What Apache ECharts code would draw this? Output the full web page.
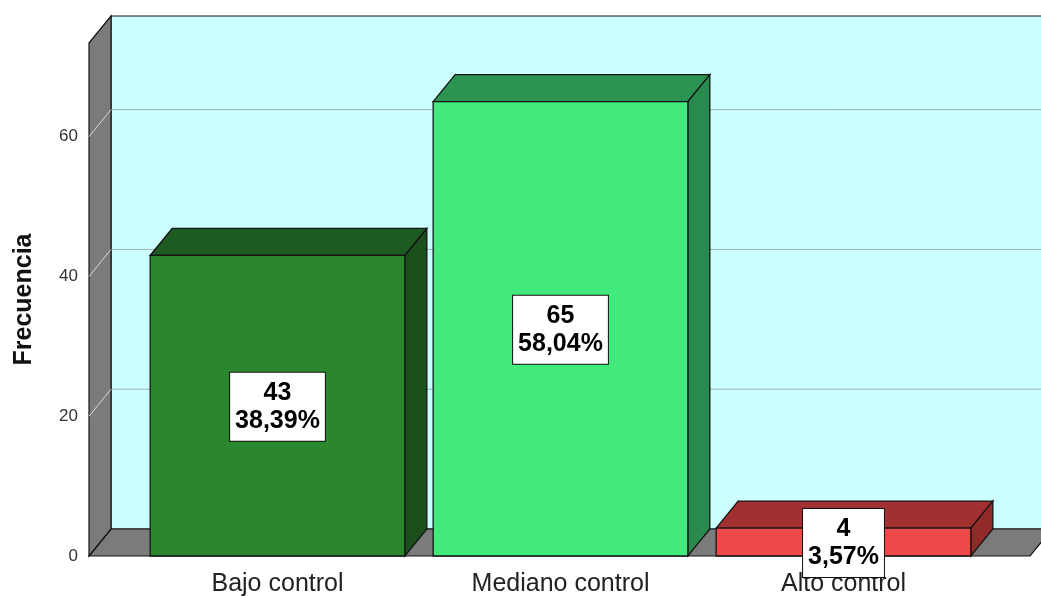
<!DOCTYPE html>
<html>
<head>
<meta charset="utf-8">
<script src="https://cdn.jsdelivr.net/npm/echarts@6/dist/echarts.min.js"></script>
<style>
html,body{margin:0;padding:0;background:#fff;}
#chart{width:1041px;height:597px;}
</style>
</head>
<body>
<div id="chart"></div>
<script>
const categories = ['Bajo control', 'Mediano control', 'Alto control'];
const frequencies = [43, 65, 4];
const percentLabels = ['38,39%', '58,04%', '3,57%'];
const yAxisMax = 73.4;
const yAxisInterval = 20;
const gridValues = [20, 40, 60];

const frontColors = ['#2b872e', '#42e97c', '#ef4848'];
const topColors = ['#1e5b20', '#2b9453', '#a13131'];
const sideColors = ['#1b4f1c', '#288a4c', '#932a2a'];

const DX = 22, DY = -27;
const EDGE = '#141414';

const chart = echarts.init(document.getElementById('chart'));

function renderBox(params, api) {
  const cs = params.coordSys;
  const y0 = api.coord([0, 0])[1];
  const yTop = cs.y;
  const xL = cs.x - 47;
  const xR = cs.x + cs.width + 45;
  const children = [];
  children.push({
    type: 'rect',
    shape: { x: xL + DX, y: yTop + DY, width: xR - xL, height: y0 - yTop },
    style: { fill: '#ccffff', stroke: EDGE, lineWidth: 1.2 }
  });
  gridValues.forEach(function (v) {
    const y = api.coord([0, v])[1];
    children.push({
      type: 'line',
      shape: { x1: xL + DX, y1: y + DY, x2: xR + DX, y2: y + DY },
      style: { stroke: '#9fb0b0', lineWidth: 1 }
    });
  });
  children.push({
    type: 'polygon',
    shape: { points: [[xL, y0], [xL + DX, y0 + DY], [xR + DX, y0 + DY], [xR, y0]] },
    style: { fill: '#7b7b7b', stroke: EDGE, lineWidth: 1.2 }
  });
  children.push({
    type: 'polygon',
    shape: { points: [[xL, yTop], [xL + DX, yTop + DY], [xL + DX, y0 + DY], [xL, y0]] },
    style: { fill: '#7b7b7b', stroke: EDGE, lineWidth: 1.2 }
  });
  gridValues.forEach(function (v) {
    const y = api.coord([0, v])[1];
    children.push({
      type: 'line',
      shape: { x1: xL, y1: y, x2: xL + DX, y2: y + DY },
      style: { stroke: '#d8dede', lineWidth: 1 }
    });
  });
  return { type: 'group', children: children };
}

function renderBar(params, api) {
  const idx = api.value(0);
  const v = api.value(1);
  const p0 = api.coord([idx, 0]);
  const p1 = api.coord([idx, v]);
  const bw = api.size([1, 0])[0] * 0.9;
  const xl = p1[0] - bw / 2, xr = p1[0] + bw / 2;
  const yt = p1[1], yb = p0[1];
  const i = params.dataIndex;
  return {
    type: 'group',
    children: [
      { type: 'polygon', shape: { points: [[xl, yt], [xl + DX, yt + DY], [xr + DX, yt + DY], [xr, yt]] },
        style: { fill: topColors[i], stroke: EDGE, lineWidth: 1.3 } },
      { type: 'polygon', shape: { points: [[xr, yt], [xr + DX, yt + DY], [xr + DX, yb + DY], [xr, yb]] },
        style: { fill: sideColors[i], stroke: EDGE, lineWidth: 1.3 } },
      { type: 'rect', shape: { x: xl, y: yt, width: bw, height: yb - yt },
        style: { fill: frontColors[i], stroke: EDGE, lineWidth: 1.3 } }
    ]
  };
}

function renderLabel(params, api) {
  const idx = api.value(0);
  const v = api.value(1);
  const p0 = api.coord([idx, 0]);
  const p1 = api.coord([idx, v]);
  return {
    type: 'text',
    x: p1[0],
    y: (p0[1] + p1[1]) / 2 + 1,
    style: {
      text: String(frequencies[params.dataIndex]) + '\n' + percentLabels[params.dataIndex],
      font: 'bold 25px "Liberation Sans", Arial, sans-serif',
      fill: '#000',
      align: 'center',
      verticalAlign: 'middle',
      lineHeight: 28,
      backgroundColor: '#fff',
      borderColor: '#111',
      borderWidth: 1,
      padding: [6, 5, 6, 5]
    }
  };
}

const barData = frequencies.map(function (v, i) { return [i, v]; });

chart.setOption({
  backgroundColor: '#fff',
  animation: false,
  grid: { left: 136, right: 56, top: 43, bottom: 40 },
  xAxis: {
    type: 'category',
    data: categories,
    axisLine: { show: false },
    axisTick: { show: false },
    axisLabel: { color: '#222', fontSize: 25, fontFamily: '"Liberation Sans", Arial, sans-serif', margin: 16 }
  },
  yAxis: {
    type: 'value',
    min: 0,
    max: yAxisMax,
    interval: yAxisInterval,
    name: 'Frecuencia',
    nameLocation: 'middle',
    nameRotate: 90,
    nameGap: 99,
    nameTextStyle: { color: '#111', fontSize: 25, fontWeight: 'bold', fontFamily: '"Liberation Sans", Arial, sans-serif' },
    axisLine: { show: false },
    axisTick: { show: false },
    splitLine: { show: false },
    axisLabel: {
      color: '#333', fontSize: 17, fontFamily: '"Liberation Sans", Arial, sans-serif', margin: 58,
      showMaxLabel: false,
      formatter: function (v) { return v % yAxisInterval === 0 ? String(v) : ''; }
    }
  },
  series: [
    { type: 'custom', name: 'box', renderItem: renderBox, data: [[0, 0]], encode: { x: 0, y: 1 }, clip: false, silent: true, z: 1 },
    { type: 'custom', name: 'Frecuencia', renderItem: renderBar, data: barData, encode: { x: 0, y: 1 }, clip: false, z: 2 },
    { type: 'custom', name: 'labels', renderItem: renderLabel, data: barData, encode: { x: 0, y: 1 }, clip: false, z: 5 }
  ]
});
</script>
</body>
</html>
